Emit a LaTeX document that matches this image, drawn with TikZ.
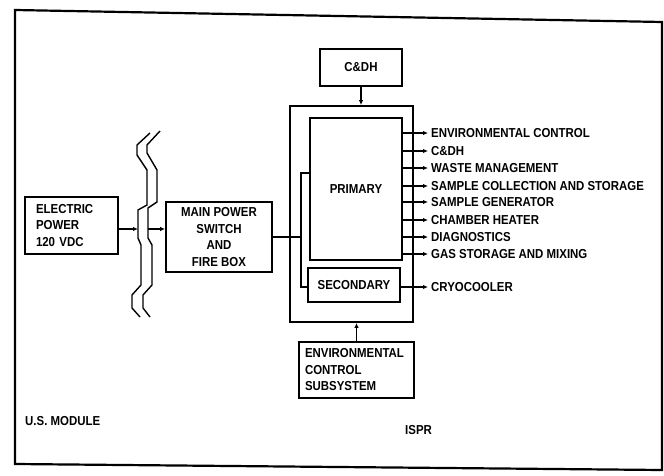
\documentclass[tikz,border=0pt]{standalone}
\usepackage{fontspec}
\setmainfont[FakeStretch=0.88]{Liberation Sans}
\usetikzlibrary{arrows.meta,calc}

\begin{document}
\begin{tikzpicture}[x=1pt,y=-1pt,
    blk/.style={draw, line width=1.8pt, inner sep=0pt, align=center,
      font=\bfseries\fontsize{13}{16.5}\selectfont},
    lbl/.style={anchor=west, inner xsep=3pt, inner ysep=0pt,
      font=\bfseries\fontsize{13}{16}\selectfont},
    flow/.style={line width=1.4pt, -{Latex[length=5pt,width=4.5pt]}},
    wire/.style={line width=1.4pt}]
  \useasboundingbox (0,0) rectangle (664,476);
  % outer frame, a little skewed as in the scan
  \draw[line width=2.2pt] (15,10) -- (662,22) -- (662,470) -- (15,464) -- cycle;

  % blocks
  \node[blk, minimum width=93pt, minimum height=57pt, text width=71pt,
        align=left] (ep) at (71.5,225.5) {ELECTRIC\\POWER\\120 VDC};
  \node[blk, minimum width=106pt, minimum height=70pt] (mps) at (219,237)
        {MAIN POWER\\SWITCH\\AND\\FIRE BOX};
  \node[blk, minimum width=123pt, minimum height=216pt] (ispr) at (351.5,214) {};
  \node[blk, minimum width=92pt, minimum height=142pt] (prim) at (356,189) {PRIMARY};
  \node[blk, minimum width=92pt, minimum height=34pt] (sec) at (354,285) {SECONDARY};
  \node[blk, minimum width=82pt, minimum height=37pt] (cdh) at (361,67.5) {C\&DH};
  \node[blk, minimum width=115pt, minimum height=56pt, text width=103pt,
        align=left] (ecs) at (356.5,370) {ENVIRONMENTAL\\CONTROL\\SUBSYSTEM};

  % break marks between module and rack
  \draw[wire] (150,133) -- (137,145) -- (137,155) -- (147,170) -- (147,205)
    -- (138,210) -- (138,238) -- (141,245) -- (141,285) -- (132,295)
    -- (132,308) -- (140,317);
  \draw[wire] (160,131) -- (147,145) -- (147,153) -- (157,170) -- (157,202)
    -- (148,208) -- (148,238) -- (152,245) -- (152,285) -- (143,295)
    -- (143,308) -- (150,317);
  \coordinate (brkL) at (138,229);
  \coordinate (brkR) at (148,229);
  \draw[flow] (ep.east |- brkL) -- (brkL);
  \draw[flow] (brkR) -- (brkR -| mps.west);

  % power bus to primary and secondary
  \coordinate (bustop) at (301,173);
  \coordinate (busbot) at (301,287);
  \draw[wire] (mps.east) -- (mps.east -| bustop);
  \draw[wire] (prim.west |- bustop) -- (bustop) -- (busbot) -- (sec.west |- busbot);

  % data and cooling inputs
  \draw[flow] (cdh.south) -- (cdh.south |- ispr.north);
  \draw[flow] (ecs.north) -- (ecs.north |- ispr.south);

  % outputs
  \foreach \y/\t [count=\i] in {133/ENVIRONMENTAL CONTROL, 151/C\&DH,
      168/WASTE MANAGEMENT, 186/SAMPLE COLLECTION AND STORAGE,
      202/SAMPLE GENERATOR, 220/CHAMBER HEATER, 237/DIAGNOSTICS,
      254/GAS STORAGE AND MIXING} {
    \node[lbl] (out\i) at (428,\y) {\t};
    \draw[flow] (prim.east |- out\i.west) -- (out\i.west);
  }
  \node[lbl] (cryo) at (428,287) {CRYOCOOLER};
  \draw[flow] (sec.east |- cryo.west) -- (cryo.west);

  % area labels
  \node[lbl, inner xsep=0pt] (usmod) at (25,421) {U.S. MODULE};
  \node[lbl, inner xsep=0pt] (isprlbl) at (405,430) {ISPR};
\end{tikzpicture}
\end{document}
